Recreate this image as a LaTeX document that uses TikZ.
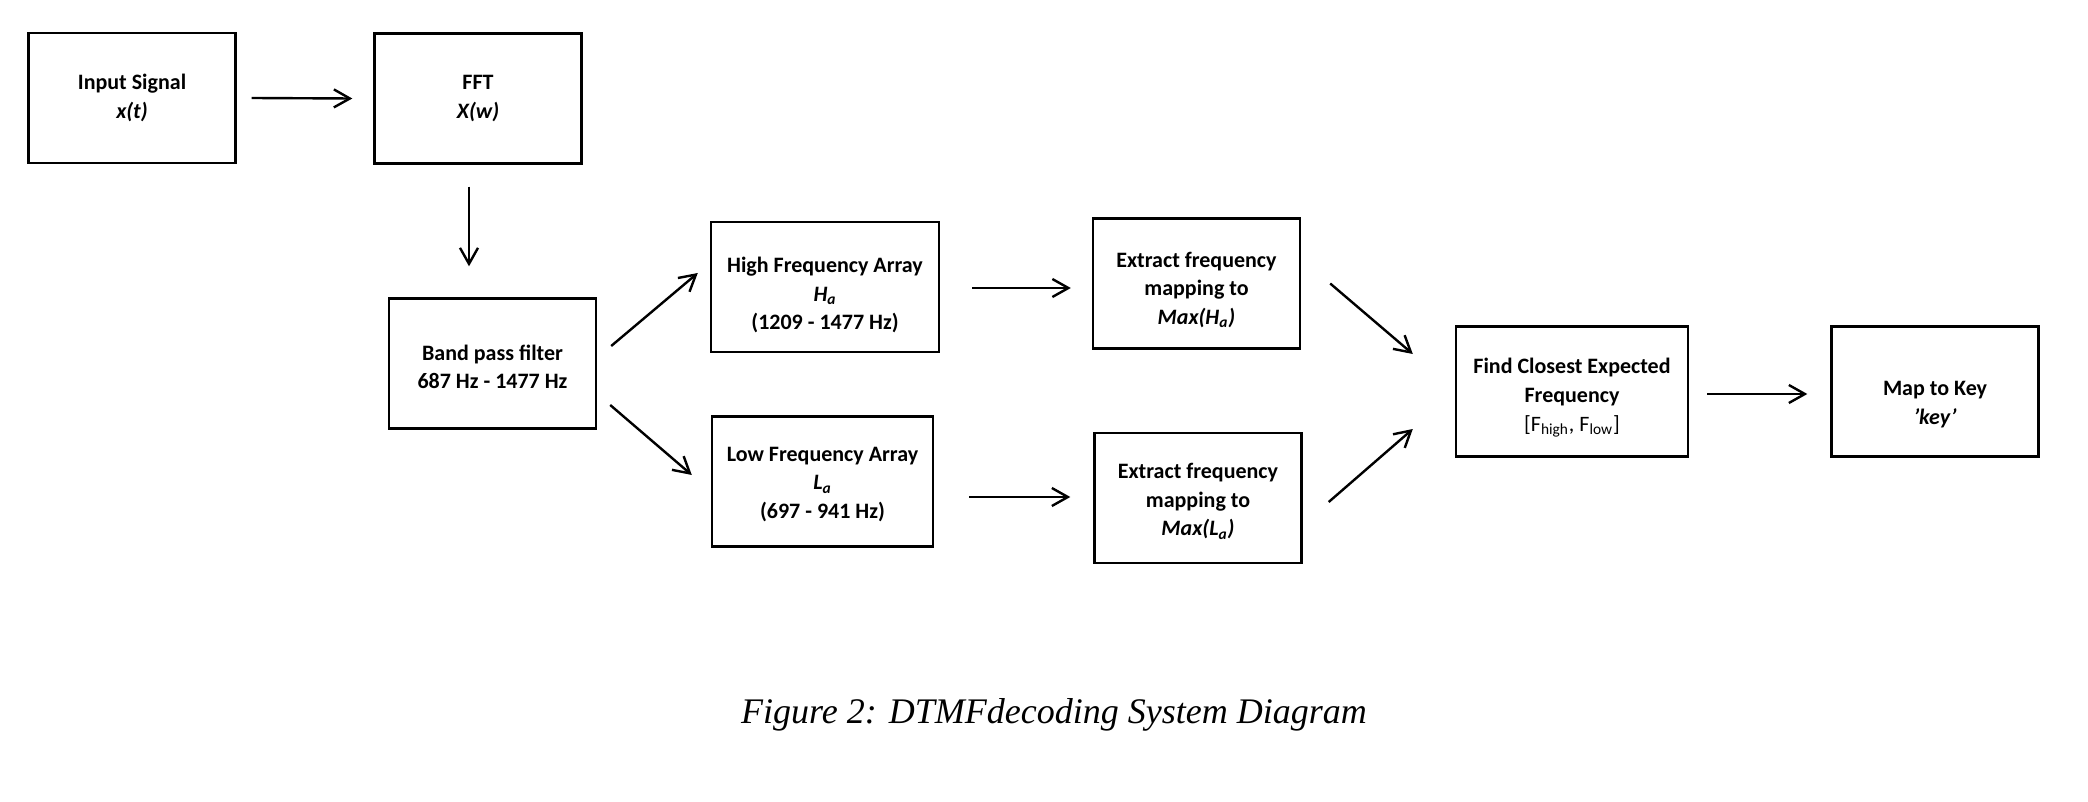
\documentclass[tikz,border=0pt]{standalone}
\usepackage{fontspec}
\setmainfont{Carlito}
\newfontfamily\capfont{Liberation Serif}
\usepackage{tikz}
\usetikzlibrary{arrows.meta,calc}
\tikzstyle{blk}=[draw,line width=1.2pt,align=center,minimum width=103.5pt,minimum height=65pt,inner sep=2pt,font=\fontsize{11}{14.3}\selectfont\bfseries]
\tikzstyle{arr}=[line width=1.2pt,-{Straight Barb[length=8pt,width=9pt]}]

\begin{document}
\begin{tikzpicture}[x=0.5pt,y=-0.5pt]
\useasboundingbox (0,0) rectangle (2088,802);
% blocks
\node[blk] (input) at (132,98) {Input Signal\\\textit{x(t)}};
\node[blk] (fft) at (478,98.5) {FFT\\\textit{X(w)}};
\node[blk] (bpf) at (492.5,363.5) {\rule{0pt}{11pt}Band pass filter\\687 Hz - 1477 Hz};
\node[blk,minimum width=114pt] (high) at (825,287) {\rule{0pt}{16pt}High Frequency Array\\\textit{H\textsubscript{a}}\\(1209 - 1477 Hz)};
\node[blk,minimum width=110.5pt] (low) at (822.5,481.5) {\rule{0pt}{10pt}Low Frequency Array\\\textit{L\textsubscript{a}}\\(697 - 941 Hz)};
\node[blk] (exth) at (1196.5,283.5) {\rule{0pt}{14pt}Extract frequency\\mapping to\\\textit{Max(H\textsubscript{a})}};
\node[blk] (extl) at (1198,498) {\rule{0pt}{11pt}Extract frequency\\mapping to\\\textit{Max(L\textsubscript{a})}};
\node[blk,minimum width=116pt] (find) at (1572,391.5) {\rule{0pt}{14pt}Find Closest Expected\\Frequency\\{\mdseries[F\textsubscript{high}, F\textsubscript{low}]}};
\node[blk] (map) at (1935,391.5) {\rule{0pt}{20pt}Map to Key\\\textit{'key'}};
\node[font=\capfont\itshape\fontsize{18}{21}\selectfont] (cap) at (1054,715) {Figure 2: DTMFdecoding System Diagram};
% arrows
\draw[arr] ($(input.east)+(15,0)$) -- ($(fft.west)+(-21,0)$);
\draw[arr] ($(fft.south)+(-9,22)$) -- ($(bpf.north)+(-23.5,-31)$);
\draw[arr] ($(bpf.east)+(14,-17.5)$) -- ($(high.west)+(-12,-14)$);
\draw[arr] ($(bpf.east)+(13,41.5)$) -- ($(low.west)+(-19,-6.5)$);
\draw[arr] ($(high.east)+(32,1)$) -- ($(exth.west)+(-21,4.5)$);
\draw[arr] ($(low.east)+(35,15.5)$) -- ($(extl.west)+(-23,-1)$);
\draw[arr] ($(exth.east)+(29,0)$) -- ($(find.west)+(-42,-37.5)$);
\draw[arr] ($(extl.east)+(26,4)$) -- ($(find.west)+(-42,37.5)$);
\draw[arr] ($(find.east)+(18,2.5)$) -- ($(map.west)+(-23,2.5)$);
\end{tikzpicture}
\end{document}
